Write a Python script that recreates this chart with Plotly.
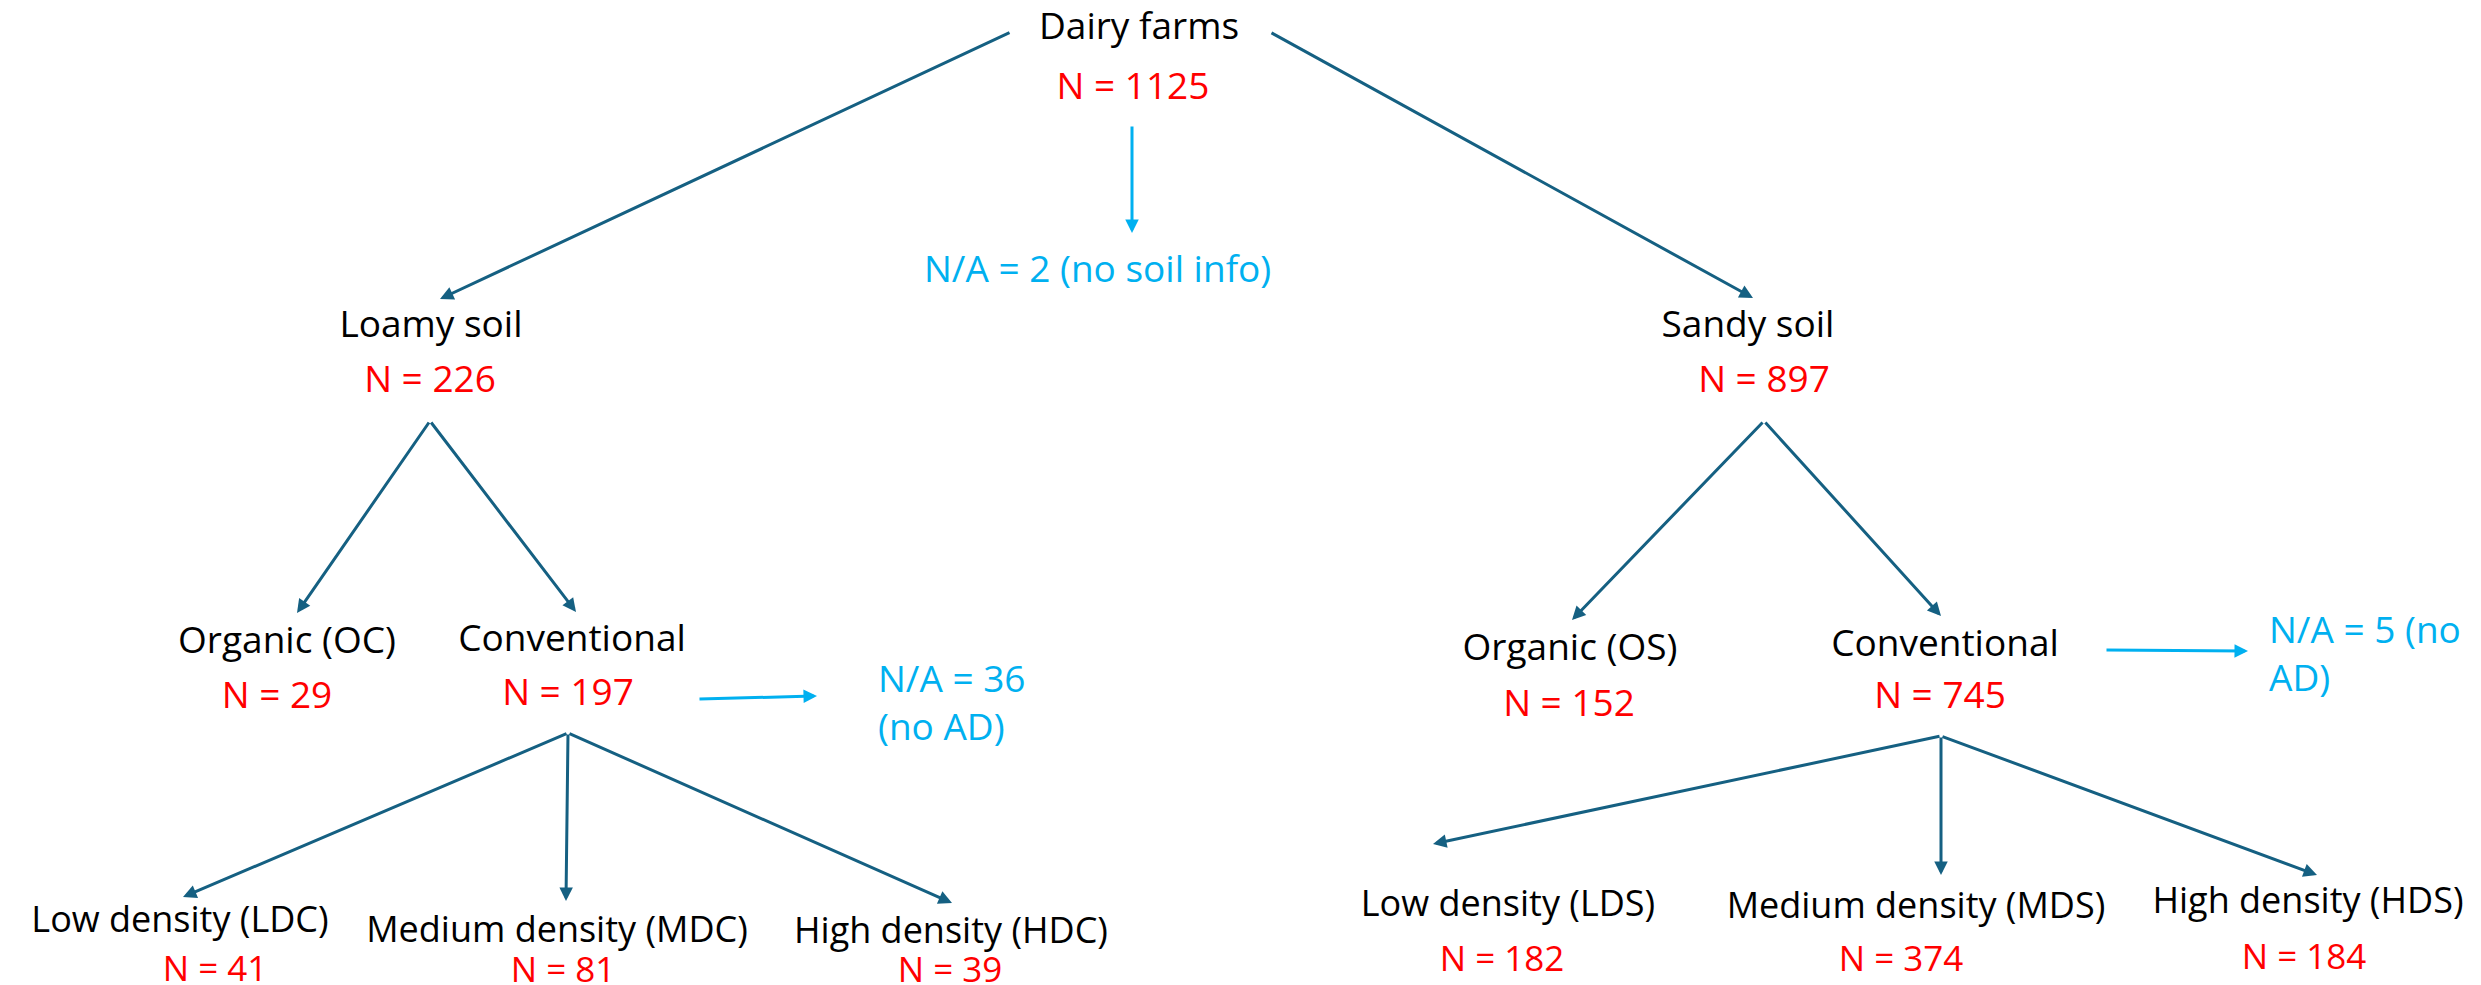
import plotly.graph_objects as go

# data
node_names = ["Dairy farms", "Loamy soil", "Sandy soil",
              "Organic (OC)", "Conventional", "Organic (OS)", "Conventional",
              "Low density (LDC)", "Medium density (MDC)", "High density (HDC)",
              "Low density (LDS)", "Medium density (MDS)", "High density (HDS)"]
node_counts = [1125, 226, 897, 29, 197, 152, 745, 41, 81, 39, 182, 374, 184]
na_labels = ["N/A = 2 (no soil info)", "N/A = 36<br>(no AD)", "N/A = 5 (no<br>AD)"]

# layout of the diagram (page pixels, y downwards)
name_x = [1131, 423, 1740, 279, 564, 1562, 1937, 172, 549, 943, 1500, 1908, 2300]
name_y = [22, 320, 320, 636, 634, 643, 639, 915, 925, 926, 899, 901, 896]
count_x = [1125, 422, 1756, 269, 560, 1561, 1932, 207, 555, 942, 1494, 1893, 2296]
count_y = [82, 375, 375, 691, 688, 699, 691, 964, 965, 965, 954, 954, 952]
name_size = [37] * 7 + [36] * 6
count_size = [37] * 7 + [35] * 6
na_pos = [(1089, 259, "center"), (868, 693, "left"), (2259, 644, "left")]

# arrows: (tail x, tail y, tip x, tip y, colour)
DARK = "#156082"
CYAN = "#00B0F0"
arrows = [
    (1003, 24, 432, 291, DARK), (1262, 24, 1745, 290, DARK), (1124, 117, 1124, 225, CYAN),
    (422, 413, 289, 605, DARK), (422, 413, 568, 604, DARK),
    (1756, 413, 1564, 612, DARK), (1756, 413, 1933, 608, DARK),
    (560, 725, 175, 889, DARK), (560, 725, 558, 893, DARK), (560, 725, 944, 895, DARK),
    (690, 691, 809, 688, CYAN),
    (1933, 728, 1425, 836, DARK), (1933, 728, 1933, 867, DARK), (1933, 728, 2309, 867, DARK),
    (2097, 642, 2240, 643, CYAN),
]

FONT = "Open Sans"
SIZE = 37

fig = go.Figure()
fig.add_trace(go.Scatter(x=name_x, y=name_y, mode="text", text=node_names,
                         textposition="middle center",
                         textfont=dict(family=FONT, size=name_size, color="black"),
                         hoverinfo="skip", showlegend=False))
fig.add_trace(go.Scatter(x=count_x, y=count_y, mode="text",
                         text=[f"N = {n}" for n in node_counts],
                         textposition="middle center",
                         textfont=dict(family=FONT, size=count_size, color="#FF0000"),
                         hoverinfo="skip", showlegend=False))

for (x, y, anchor), label in zip(na_pos, na_labels):
    fig.add_annotation(x=x, y=y, xref="x", yref="y", text=label, showarrow=False,
                       xanchor=anchor, yanchor="middle", align=anchor,
                       font=dict(family=FONT, size=SIZE, color=CYAN))

for x0, y0, x1, y1, col in arrows:
    fig.add_annotation(x=x1, y=y1, ax=x0, ay=y0, xref="x", yref="y", axref="x", ayref="y",
                       text="", showarrow=True, arrowhead=2, arrowsize=0.9,
                       arrowwidth=3, arrowcolor=col, standoff=0)

fig.update_xaxes(range=[0, 2481], visible=False)
fig.update_yaxes(range=[985, 0], visible=False)
fig.update_layout(width=2481, height=985, margin=dict(l=0, r=0, t=0, b=0),
                  plot_bgcolor="white", paper_bgcolor="white")

fig.write_html("out.html")
